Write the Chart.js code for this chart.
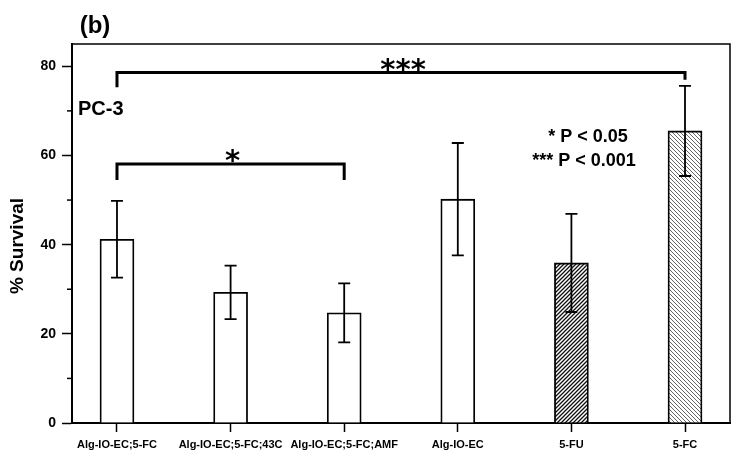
<!DOCTYPE html>
<html>
<head>
<meta charset="utf-8">
<script src="https://cdn.jsdelivr.net/npm/chart.js@4.4.0/dist/chart.umd.min.js"></script>
<style>
  body { margin: 0; background: #fff; }
  canvas { display: block; }
</style>
</head>
<body>
<canvas id="graficoSobrevivencia" width="741" height="460"></canvas>
<script>
const categorias = ['Alg-IO-EC;5-FC', 'Alg-IO-EC;5-FC;43C', 'Alg-IO-EC;5-FC;AMF', 'Alg-IO-EC', '5-FU', '5-FC']
const sobrevivencia = [41.2, 29.3, 24.7, 50.2, 35.9, 65.5]
const erroPadrao = [8.6, 6.0, 6.6, 12.6, 11.0, 10.1]
const ticksY = [0, 20, 40, 60, 80]
const ticksMenoresY = [10, 30, 50, 70]
const colchetes = [
    { de: 0, ate: 5, nivel: 78.6, pernaEsq: 75.3, pernaDir: 77.0, texto: '***' },
    { de: 0, ate: 2, nivel: 58.1, pernaEsq: 54.5, pernaDir: 54.5, texto: '*' }
]
const legendaP = ['* P < 0.05', '*** P < 0.001']

const fonte = "Arial, 'Liberation Sans', sans-serif"

function criaHachura(direcao, cor, espessura, passo) {
    const tile = document.createElement('canvas')
    tile.width = passo
    tile.height = passo
    const c = tile.getContext('2d')
    c.fillStyle = '#fff'
    c.fillRect(0, 0, passo, passo)
    c.strokeStyle = cor
    c.lineWidth = espessura
    c.beginPath()
    if (direcao === '/') {
        c.moveTo(-1, passo + 1); c.lineTo(passo + 1, -1)
        c.moveTo(-1, 1); c.lineTo(1, -1)
        c.moveTo(passo - 1, passo + 1); c.lineTo(passo + 1, passo - 1)
    } else {
        c.moveTo(-1, -1); c.lineTo(passo + 1, passo + 1)
        c.moveTo(passo - 1, -1); c.lineTo(passo + 1, 1)
        c.moveTo(-1, passo - 1); c.lineTo(1, passo + 1)
    }
    c.stroke()
    return c.createPattern(tile, 'repeat')
}

const preenchimentos = ['#fff', '#fff', '#fff', '#fff', criaHachura('/', '#111', 1.3, 4), criaHachura('\\', '#666', 1, 4)]

// texto centrado pela tinta (bounding box real)
function escreveCentrado(ctx, texto, cx, cy, font) {
    ctx.font = font
    const m = ctx.measureText(texto)
    const x = cx - (m.actualBoundingBoxRight - m.actualBoundingBoxLeft) / 2 + m.actualBoundingBoxLeft
    const y = cy + (m.actualBoundingBoxAscent - m.actualBoundingBoxDescent) / 2
    ctx.textAlign = 'left'
    ctx.textBaseline = 'alphabetic'
    ctx.fillText(texto, x, y)
}

const extras = {
    id: 'extras',
    afterDraw(chart) {
        const ctx = chart.ctx
        const area = chart.chartArea
        const x = chart.scales.x
        const y = chart.scales.y
        ctx.save()
        ctx.strokeStyle = '#000'
        ctx.fillStyle = '#000'

        // moldura de cima e da direita
        ctx.lineWidth = 1.5
        ctx.beginPath()
        ctx.moveTo(area.left, area.top)
        ctx.lineTo(area.right, area.top)
        ctx.lineTo(area.right, area.bottom)
        ctx.stroke()

        // ticks menores
        ctx.lineWidth = 1.5
        ticksMenoresY.forEach(v => {
            const py = y.getPixelForValue(v)
            ctx.beginPath()
            ctx.moveTo(area.left - 5, py)
            ctx.lineTo(area.left, py)
            ctx.stroke()
        })

        // barras de erro
        ctx.lineWidth = 1.8
        const meta = chart.getDatasetMeta(0)
        meta.data.forEach((barra, i) => {
            const px = barra.x
            const topo = y.getPixelForValue(sobrevivencia[i] + erroPadrao[i])
            const base = y.getPixelForValue(sobrevivencia[i] - erroPadrao[i])
            ctx.beginPath()
            ctx.moveTo(px, topo); ctx.lineTo(px, base)
            ctx.moveTo(px - 6, topo); ctx.lineTo(px + 6, topo)
            ctx.moveTo(px - 6, base); ctx.lineTo(px + 6, base)
            ctx.stroke()
        })

        // colchetes de significancia
        ctx.lineWidth = 3
        colchetes.forEach(c => {
            const x1 = x.getPixelForValue(c.de)
            const x2 = x.getPixelForValue(c.ate)
            const py = y.getPixelForValue(c.nivel)
            ctx.beginPath()
            ctx.moveTo(x1, y.getPixelForValue(c.pernaEsq))
            ctx.lineTo(x1, py)
            ctx.lineTo(x2, py)
            ctx.lineTo(x2, y.getPixelForValue(c.pernaDir))
            ctx.stroke()
            escreveCentrado(ctx, c.texto, (x1 + x2) / 2 + 2, py - 8, "bold 29px 'DejaVu Sans', sans-serif")
        })

        // textos
        escreveCentrado(ctx, '(b)', 96, 26, 'bold 24px ' + fonte)
        ctx.font = 'bold 20px ' + fonte
        ctx.textAlign = 'left'
        ctx.textBaseline = 'middle'
        ctx.fillText('PC-3', 78, 109)
        ctx.font = 'bold 18px ' + fonte
        ctx.textAlign = 'center'
        ctx.fillText(legendaP[0], 588, 137)
        ctx.fillText(legendaP[1], 584, 161)

        // titulo do eixo y
        ctx.translate(18, 246)
        ctx.rotate(-Math.PI / 2)
        ctx.font = 'bold 19px ' + fonte
        ctx.textAlign = 'center'
        ctx.textBaseline = 'middle'
        ctx.fillText('% Survival', 0, 0)
        ctx.restore()
    }
}

const graficoSobrevivencia = new Chart(document.getElementById('graficoSobrevivencia'), {
    type: 'bar',
    data: {
        datasets: [{
            label: '% Survival',
            data: categorias.map((c, i) => ({ x: i, y: sobrevivencia[i] })),
            backgroundColor: preenchimentos,
            borderColor: '#000',
            borderWidth: 1.8,
            barThickness: 34
        }]
    },
    options: {
        responsive: false,
        animation: false,
        events: [],
        layout: { padding: { top: 44, right: 11, left: 0, bottom: 0 } },
        plugins: {
            legend: { display: false },
            tooltip: { enabled: false }
        },
        scales: {
            x: {
                type: 'linear',
                offset: false,
                min: -0.396,
                max: 5.396,
                afterBuildTicks: scale => { scale.ticks = categorias.map((c, i) => ({ value: i })) },
                afterFit: scale => { scale.height = 37 },
                ticks: {
                    callback: v => categorias[v],
                    font: { family: fonte, size: 11, weight: 'bold' },
                    color: '#000',
                    maxRotation: 0,
                    autoSkip: false,
                    padding: 6
                },
                grid: { offset: false, drawOnChartArea: false, tickLength: 9, tickColor: '#000', tickWidth: 1.5 },
                border: { color: '#000', width: 2 }
            },
            y: {
                min: 0,
                max: 85,
                afterBuildTicks: scale => { scale.ticks = ticksY.map(v => ({ value: v })) },
                afterFit: scale => { scale.width = 72 },
                ticks: {
                    font: { family: fonte, size: 14, weight: 'bold' },
                    color: '#000',
                    padding: 6
                },
                grid: { drawOnChartArea: false, tickLength: 10, tickColor: '#000', tickWidth: 1.5 },
                border: { color: '#000', width: 2 }
            }
        }
    },
    plugins: [extras]
});
</script>
</body>
</html>
